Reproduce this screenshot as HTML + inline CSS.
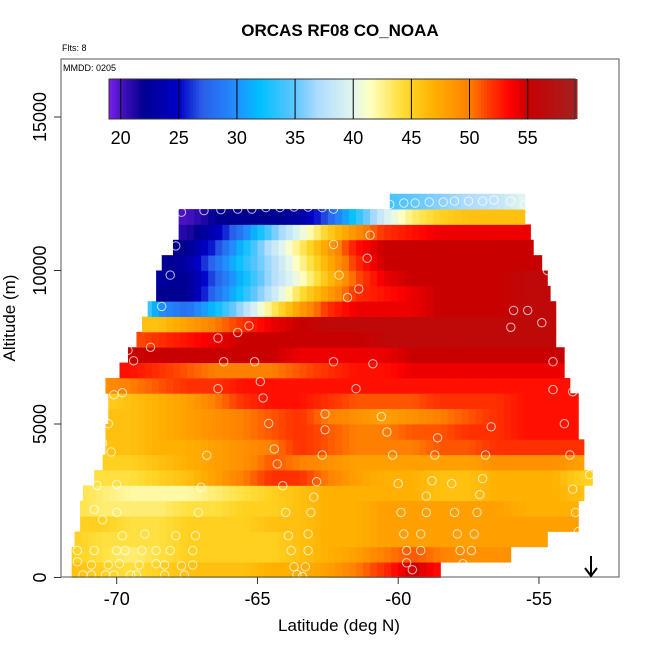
<!DOCTYPE html>
<html><head><meta charset="utf-8"><style>
html,body{margin:0;padding:0;background:#fff;}
svg{display:block;font-family:"Liberation Sans",Arial,sans-serif;}
</style></head><body>
<svg id="chart" width="650" height="650" viewBox="0 0 650 650">
<text x="340" y="36" text-anchor="middle" font-size="17" font-weight="bold">ORCAS RF08 CO_NOAA</text>
<text x="62" y="51" font-size="9">Flts: 8</text>
<g id="cells"></g>
<g id="pts"></g>
<rect x="61" y="59" width="558" height="518" fill="none" stroke="#555" stroke-width="1"/>
<text x="63" y="71" font-size="9">MMDD: 0205</text>
<g id="legend"></g>
<g id="axes"></g>
<text x="339" y="631" text-anchor="middle" font-size="17">Latitude (deg N)</text>
<text transform="translate(15,318) rotate(-90)" text-anchor="middle" font-size="17">Altitude (m)</text>
<g><line x1="591" y1="556" x2="591" y2="575" stroke="#000" stroke-width="2"/><path d="M585,568 L591,576 L597,568" fill="none" stroke="#000" stroke-width="2"/></g>
</svg>
<script>
const latCenters=[-71.5,-70.5,-69.5,-68.5,-67.5,-66.5,-65.5,-64.5,-63.5,-62.5,-61.5,-60.5,-59.5,-58.5,-57.5,-56.5,-55.5,-54.5,-53.5];
const altBottoms=[0,500,1000,1500,2000,2500,3000,3500,4000,4500,5000,5500,6000,6500,7000,7500,8000,8500,9000,9500,10000,10500,11000,11500,12000];
const rowStart=[-71.6,-71.6,-71.5,-71.3,-71.3,-71.2,-70.8,-70.5,-70.4,-70.4,-70.3,-70.3,-70.4,-69.9,-69.6,-69.3,-69.1,-68.9,-68.6,-68.6,-68.4,-68.0,-67.8,-67.8,-60.3];
const rowEnd=[-58.5,-56.0,-54.7,-53.6,-53.6,-53.4,-53.1,-53.4,-53.4,-53.6,-53.6,-53.6,-53.9,-54.1,-54.1,-54.4,-54.4,-54.4,-54.6,-54.7,-54.9,-55.2,-55.3,-55.5,-55.5];
const coValues=[
[46,45,44,45,46,46,46,47,47,48,50,52,55,53,52,50,50,50,50],
[45,44,43,44,45,45,45,45,46,47,48,50,51,50,49,49,49,49,49],
[45,44,44,44,45,45,45,45,46,47,47,48,48,48,48,48,48,48,48],
[45,45,44,44,45,45,45,46,46,47,47,48,48,48,48,48,48,48,48],
[44,43,43,43,44,44,45,45,46,47,47,48,48,48,48,48,47,47,47],
[44,43,42,42,42,43,44,45,46,47,47,47,47,46,46,47,47,47,46],
[44,44,44,45,46,48,50,52,52,50,48,47,47,46,46,47,47,47,45],
[45,45,45,46,47,48,49,51,50,49,48,48,48,48,48,49,49,49,48],
[46,46,46,47,47,48,49,50,52,51,50,50,50,51,51,52,52,52,52],
[46,46,46,47,48,49,50,51,52,51,50,50,51,51,52,52,53,53,53],
[46,46,46,47,48,49,50,51,52,50,49,48,49,50,51,52,53,53,53],
[45,45,46,47,48,50,52,53,53,52,51,51,51,52,52,52,53,53,53],
[49,49,50,51,52,52,53,53,53,53,53,53,53,53,53,53,53,53,53],
[53,53,53,52,51,50,50,50,51,52,53,53,54,54,54,54,54,54,54],
[55,55,55,55,55,55,55,55,54,54,54,54,55,55,55,55,55,55,55],
[51,51,51,52,53,54,55,55,55,55,55,56,56,56,56,56,56,56,56],
[46,46,46,46,48,50,52,54,55,56,56,56,56,56,56,56,56,56,56],
[40,40,40,30,28,32,37,43,48,52,54,54,54,55,55,55,56,56,56],
[22,22,22,22,22,28,33,38,44,48,52,53,54,55,55,55,56,56,56],
[23,23,23,23,22,27,32,37,41,46,51,54,55,55,55,55,56,56,56],
[22,22,22,22,23,28,33,37,42,47,52,55,55,55,55,55,55,55,55],
[22,22,22,22,22,26,32,38,43,48,53,55,55,55,55,55,55,55,55],
[21,21,21,21,21,24,29,35,40,45,49,52,53,54,54,54,54,54,54],
[20,20,20,20,20,22,22,22,23,27,33,39,43,45,46,46,46,46,46],
[36,36,36,36,36,36,36,36,36,36,36,34,35,36,37,38,40,40,40]];
const pointLat=[-67.7,-66.9,-66.3,-65.7,-65.2,-64.7,-64.2,-63.7,-63.2,-62.7,-62.3,-60.3,-59.8,-59.4,-58.9,-58.4,-58.0,-57.5,-57.0,-56.6,-56.0,-55.5,
-67.9,-68.1,-68.4,-62.3,-61.0,-61.1,-62.1,-61.4,-61.8,-54.8,-54.7,-55.4,-55.9,-54.9,-56.0,-65.7,-65.3,-66.4,-69.6,-68.8,-69.4,-66.2,-65.1,-62.3,-60.9,-54.5,-53.8,-69.8,-66.4,-64.9,-64.8,-61.5,-54.5,-53.8,-70.1,
-62.6,-60.6,-64.6,-62.6,-60.4,-56.7,-54.1,-58.6,-70.3,-70.5,-70.2,-66.8,-64.4,-62.7,-60.2,-58.7,-56.9,-53.9,-64.3,-53.2,-62.9,-60.0,-58.8,-58.1,-57.0,-70.7,-70.0,-67.0,-64.1,-63.0,-59.0,-57.1,-53.8,
-70.8,-70.0,-67.1,-64.0,-63.1,-59.9,-59.0,-58.0,-57.2,-53.7,-70.5,-69.8,-69.0,-67.9,-67.2,-63.9,-63.2,-59.8,-59.2,-57.9,-57.3,-53.6,
-71.4,-70.8,-70.0,-69.7,-69.1,-68.6,-68.1,-67.3,-63.8,-63.2,-59.7,-59.2,-57.8,-57.4,-71.4,-70.9,-70.3,-69.9,-69.2,-68.6,-68.3,-67.7,-67.3,-63.7,-63.3,-59.7,-57.7,-59.5,-57.6,-71.2,-70.9,-70.4,-70.1,-69.5,-69.3,-68.3,-67.6,-63.6,-63.4];
const pointAlt=[11900,11950,11980,12000,12000,12050,12050,12070,12070,12050,12000,12150,12200,12200,12230,12230,12260,12260,12260,12300,12260,12150,
10800,9850,8830,10850,11150,10400,9850,9400,9120,10730,10000,8700,8700,8300,8150,7980,8200,7800,7400,7500,7060,7030,7030,7030,6960,7030,6960,6020,6150,6380,5850,6150,6120,6050,5950,
5330,5240,5020,4810,4740,4910,5010,4550,5010,4380,4090,3980,4190,3990,3990,3990,3990,3990,3700,3350,3120,3060,3150,3060,3220,3000,3030,2940,2990,2620,2650,2700,2880,
2220,2120,2120,2120,2120,2120,2120,2120,2120,2120,1880,1360,1420,1360,1360,1360,1420,1420,1420,1420,1420,1500,
880,880,880,880,880,880,880,880,880,880,880,880,880,880,510,410,410,450,410,450,410,380,410,350,350,480,450,250,250,80,80,80,80,80,80,80,80,100,30];
const xTicks=[-70,-65,-60,-55];
const yTicks=[0,5000,10000,15000];
const legendTicks=[20,25,30,35,40,45,50,55];
const cmapVals=[19,20,22,25,27,30,32,35,37,40,41.5,44,45,47,50,51.5,53.5,55,59];
const cmapCols=['#7f1fef','#4a12c0','#000090','#0000c8','#2a5ee8','#2090ff','#00c0ff','#60c6ff','#b0dcff','#e2f6ee','#ffffc0','#ffe040','#ffd020','#ffb000','#ff8000','#ff4000','#ff0000','#c80000','#a52020'];

const NS='http://www.w3.org/2000/svg';
const xS=lat=>116.7+(lat+70)*28.15;
const yS=alt=>577.5-alt*0.0307;
const lS=v=>109+(v-19)*11.63;
function hex(c){return [1,3,5].map(i=>parseInt(c.substr(i,2),16));}
function cmap(v){
  if(v<=cmapVals[0])return cmapCols[0];
  for(let i=1;i<cmapVals.length;i++){if(v<=cmapVals[i]){const t=(v-cmapVals[i-1])/(cmapVals[i]-cmapVals[i-1]);const a=hex(cmapCols[i-1]),b=hex(cmapCols[i]);return 'rgb('+a.map((x,k)=>Math.round(x+(b[k]-x)*t)).join(',')+')';}}
  return cmapCols[cmapCols.length-1];
}
function mk(tag,attrs,parent){const e=document.createElementNS(NS,tag);for(const k in attrs)e.setAttribute(k,attrs[k]);parent.appendChild(e);return e;}
const cells=document.getElementById('cells');
const SUB=4;
for(let r=0;r<altBottoms.length;r++){
  const y0=yS(altBottoms[r]+500),y1=yS(altBottoms[r]);
  for(let c=0;c<latCenters.length;c++){
    for(let s=0;s<SUB;s++){
      let la=latCenters[c]-0.5+s/SUB, lb=la+1/SUB;
      la=Math.max(la,rowStart[r]); lb=Math.min(lb,rowEnd[r]);
      if(lb<=la)continue;
      const f=(s+0.5)/SUB-0.5;
      const nb=f<0?Math.max(c-1,0):Math.min(c+1,latCenters.length-1);
      const v=coValues[r][c]+(coValues[r][nb]-coValues[r][c])*Math.abs(f);
      const e=mk('rect',{x:xS(la).toFixed(2),y:y0.toFixed(2),width:(xS(lb)-xS(la)+0.4).toFixed(2),height:(y1-y0+0.4).toFixed(2),fill:cmap(v)},cells);
      
      
    }
  }
}
const pts=document.getElementById('pts');
for(let i=0;i<pointLat.length;i++){
  const e=mk('circle',{cx:xS(pointLat[i]).toFixed(1),cy:yS(pointAlt[i]).toFixed(1),r:4.2,fill:'none',stroke:'#fff','stroke-opacity':0.75,'stroke-width':1},pts);
  
  
}
const lg=document.getElementById('legend');
for(let v=19;v<59.1;v+=0.25){
  const e=mk('rect',{x:lS(v).toFixed(2),y:79,width:3.3,height:40,fill:cmap(v+0.125)},lg);
  
  
}
mk('rect',{x:109,y:79,width:466,height:40,fill:'none',stroke:'#333','stroke-width':1},lg);
legendTicks.forEach(t=>{
  const l=mk('line',{x1:lS(t),x2:lS(t),y1:79,y2:119,stroke:'#000','stroke-width':1},lg);
  
  
  const tx=mk('text',{x:lS(t),y:144,'text-anchor':'middle','font-size':18},lg);
  tx.textContent=t;
  
  
});
const ax=document.getElementById('axes');
xTicks.forEach(t=>{
  const l=mk('line',{x1:xS(t),x2:xS(t),y1:577,y2:584,stroke:'#333'},ax);
  
  
  const tx=mk('text',{x:xS(t),y:605,'text-anchor':'middle','font-size':18},ax);
  tx.textContent=t;
  
  
});
yTicks.forEach(t=>{
  const l=mk('line',{x1:54,x2:61,y1:yS(t),y2:yS(t),stroke:'#333'},ax);
  
  
  const tx=mk('text',{transform:'translate(46,'+yS(t)+') rotate(-90)','text-anchor':'middle','font-size':18},ax);
  tx.textContent=t;
  
  
});
</script>
</body></html>
